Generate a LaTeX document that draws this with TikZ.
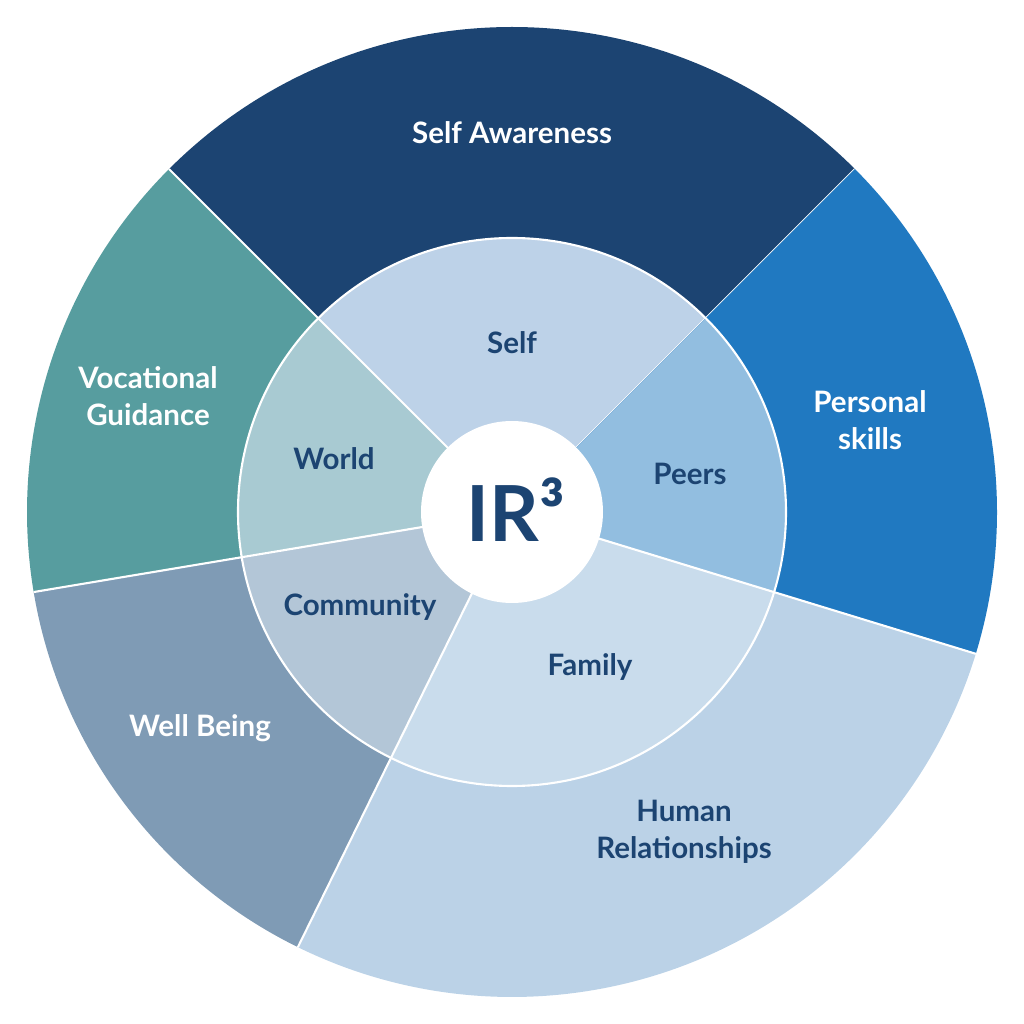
\documentclass[tikz,border=0pt]{standalone}
\usepackage{fontspec}
\setmainfont{Lato}
\definecolor{navy}{HTML}{1C4472}
\definecolor{cawareness}{HTML}{1C4472}
\definecolor{cskills}{HTML}{2079C1}
\definecolor{chuman}{HTML}{BBD2E7}
\definecolor{cwellbeing}{HTML}{7F9BB5}
\definecolor{cvocational}{HTML}{579D9F}
\definecolor{cself}{HTML}{BDD2E8}
\definecolor{cpeers}{HTML}{92BEE0}
\definecolor{cfamily}{HTML}{C9DCEC}
\definecolor{ccommunity}{HTML}{B3C6D7}
\definecolor{cworld}{HTML}{A8CAD2}
\begin{document}
\begin{tikzpicture}[
		x=0.02cm, y=0.02cm,
		sep/.style={draw=white, line width=1.2pt},
		lbl/.style={font=\fontsize{16.8}{21}\selectfont\bfseries, align=center},
		outerlabel/.style={lbl, text=white},
		innerlabel/.style={lbl, text=navy}
	]
	\useasboundingbox (-512,-512) rectangle (512,512);
	\foreach \a/\b/\outer/\inner in {45/135/cawareness/cself, 135/189.5/cvocational/cworld,
			189.5/243.8/cwellbeing/ccommunity, 243.8/343/chuman/cfamily, 343/405/cskills/cpeers} {
		\fill[\outer] (0,0) -- (\a:485) arc[start angle=\a, end angle=\b, radius=485] -- cycle;
		\fill[\inner] (0,0) -- (\a:274) arc[start angle=\a, end angle=\b, radius=274] -- cycle;
		\draw[sep] (0,0) -- (\a:485);
	}
	\draw[sep] (0,0) circle[radius=274];
	\fill[white] (0,0) circle[radius=91];
	\node[outerlabel] (awarenesslabel) at (0,379) {Self Awareness};
	\node[outerlabel] (vocationallabel) at (-364,116) {Vocational\\Guidance};
	\node[outerlabel] (skillslabel) at (358,92) {Personal\\skills};
	\node[outerlabel] (wellbeinglabel) at (-312,-216) {Well Being};
	\node[innerlabel] (humanlabel) at (172,-320) {Human\\Relationships};
	\node[innerlabel] (selflabel) at (0,169) {Self};
	\node[innerlabel] (worldlabel) at (-178,53) {World};
	\node[innerlabel] (peerslabel) at (178,38) {Peers};
	\node[innerlabel] (communitylabel) at (-152,-95) {Community};
	\node[innerlabel] (familylabel) at (78,-155) {Family};
	\node[text=navy, font=\fontsize{44}{44}\selectfont\bfseries] (core) at (4,2) {IR³};
\end{tikzpicture}
\end{document}
